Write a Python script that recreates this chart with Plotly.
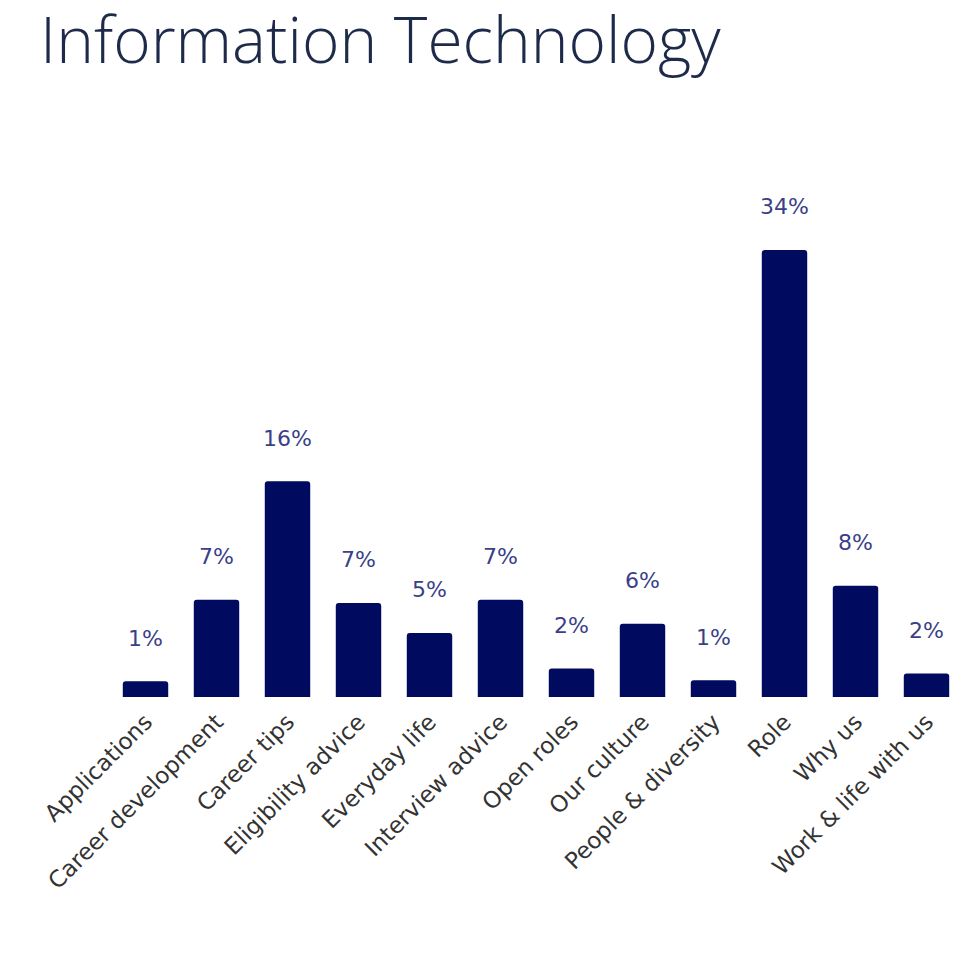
import plotly.graph_objects as go

categories = ["Applications", "Career development", "Career tips", "Eligibility advice",
              "Everyday life", "Interview advice", "Open roles", "Our culture",
              "People & diversity", "Role", "Why us", "Work & life with us"]
values = [1.19, 7.4, 16.4, 7.15, 4.87, 7.4, 2.16, 5.58, 1.27, 34.0, 8.47, 1.78]
labels = ["1%", "7%", "16%", "7%", "5%", "7%", "2%", "6%", "1%", "34%", "8%", "2%"]

fig = go.Figure()
fig.add_trace(go.Bar(
    x=categories, y=values,
    marker=dict(color="#000a5e", line=dict(width=0)),
    hoverinfo="skip",
))

for c, v, t in zip(categories, values, labels):
    fig.add_annotation(x=c, y=v, text=t, showarrow=False, yanchor="middle",
                       yshift=43, font=dict(family="DejaVu Sans", size=22, color="#3b3f88"))

fig.update_layout(
    width=972, height=954,
    paper_bgcolor="white", plot_bgcolor="white",
    margin=dict(l=102, r=18, t=142, b=265, autoexpand=False),
    bargap=0.36,
    barcornerradius=3,
    showlegend=False,
    title=dict(text="Information Technology", x=32 / 972, xanchor="left", xref="container",
               y=0.9654, yanchor="middle", yref="container",
               font=dict(family="Open Sans", weight=300, size=64, color="#1e2a4a")),
)
fig.update_xaxes(showgrid=False, showline=False, zeroline=False, ticks="", automargin=False,
                 ticklabelstandoff=6,
                 tickangle=-45, tickfont=dict(family="DejaVu Sans", size=23, color="#333333"))
fig.update_yaxes(visible=False, range=[0, 41.6], automargin=False)

fig.write_html("out.html")
